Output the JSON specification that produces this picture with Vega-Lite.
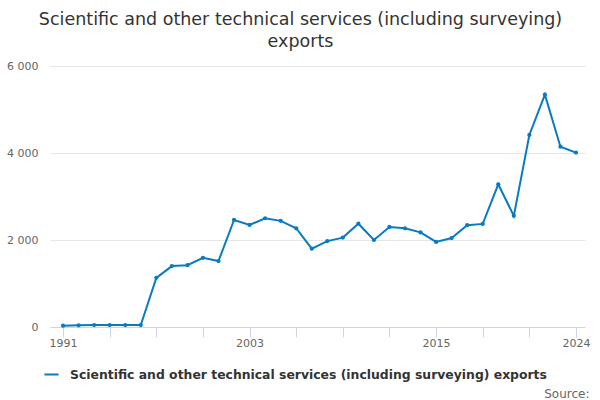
{
  "$schema": "https://vega.github.io/schema/vega-lite/v6.json",
  "width": 535,
  "height": 261,
  "autosize": "none",
  "padding": {"left": 50, "top": 66, "right": 15, "bottom": 73},
  "background": "#ffffff",
  "title": {
    "text": ["Scientific and other technical services (including surveying)", "exports"],
    "font": "DejaVu Sans",
    "fontSize": 17.5,
    "fontWeight": "normal",
    "color": "#333333",
    "lineHeight": 22,
    "anchor": "middle",
    "dx": -17,
    "offset": 10
  },
  "config": {
    "view": {"stroke": null},
    "font": "DejaVu Sans"
  },
  "data": {
    "values": [
      {"year": 1991, "value": 30},
      {"year": 1992, "value": 40},
      {"year": 1993, "value": 45},
      {"year": 1994, "value": 45},
      {"year": 1995, "value": 45},
      {"year": 1996, "value": 45},
      {"year": 1997, "value": 1130},
      {"year": 1998, "value": 1400},
      {"year": 1999, "value": 1420},
      {"year": 2000, "value": 1590},
      {"year": 2001, "value": 1515},
      {"year": 2002, "value": 2460},
      {"year": 2003, "value": 2345},
      {"year": 2004, "value": 2500},
      {"year": 2005, "value": 2440},
      {"year": 2006, "value": 2270},
      {"year": 2007, "value": 1800},
      {"year": 2008, "value": 1975},
      {"year": 2009, "value": 2055},
      {"year": 2010, "value": 2375},
      {"year": 2011, "value": 2000},
      {"year": 2012, "value": 2300},
      {"year": 2013, "value": 2270},
      {"year": 2014, "value": 2175},
      {"year": 2015, "value": 1955},
      {"year": 2016, "value": 2045},
      {"year": 2017, "value": 2340},
      {"year": 2018, "value": 2370},
      {"year": 2019, "value": 3280},
      {"year": 2020, "value": 2555},
      {"year": 2021, "value": 4415},
      {"year": 2022, "value": 5340},
      {"year": 2023, "value": 4145},
      {"year": 2024, "value": 4010}
    ]
  },
  "mark": {
    "type": "line",
    "strokeWidth": 2,
    "point": {"filled": true, "size": 18}
  },
  "encoding": {
    "x": {
      "field": "year",
      "type": "quantitative",
      "scale": {"domain": [1990.16, 2024.58], "nice": false, "zero": false},
      "axis": {
        "title": "Source:",
        "titleAnchor": "end",
        "titleAlign": "right",
        "titleX": 539,
        "titleY": 61,
        "titleFontSize": 12,
        "titleFontWeight": "normal",
        "titleColor": "#666666",
        "values": [1991, 1994, 1997, 2000, 2003, 2006, 2009, 2012, 2015, 2018, 2021, 2024],
        "format": "d",
        "labelExpr": "indexof([1991, 2003, 2015, 2024], datum.value) >= 0 ? datum.label : ''",
        "labelFontSize": 11,
        "labelColor": "#666666",
        "labelPadding": 0,
        "labelFlush": false,
        "tickSize": 10,
        "tickColor": "#ccd6eb",
        "domainColor": "#ccd6eb",
        "grid": false
      }
    },
    "y": {
      "field": "value",
      "type": "quantitative",
      "scale": {"domain": [0, 6000], "nice": false},
      "axis": {
        "title": null,
        "values": [0, 2000, 4000, 6000],
        "labelExpr": "replace(format(datum.value, ','), ',', ' ')",
        "labelFontSize": 11,
        "labelColor": "#666666",
        "labelPadding": 12,
        "ticks": false,
        "domain": false,
        "gridColor": "#e6e6e6"
      }
    },
    "color": {
      "datum": "Scientific and other technical services (including surveying) exports",
      "type": "nominal",
      "scale": {"range": ["#0a7bc1"]},
      "legend": {
        "title": null,
        "orient": "none",
        "legendX": -7,
        "legendY": 300,
        "symbolType": "stroke",
        "symbolSize": 200,
        "symbolStrokeWidth": 2,
        "labelFontSize": 12.4,
        "labelFontWeight": "bold",
        "labelColor": "#333333",
        "labelLimit": 600,
        "labelOffset": 10
      }
    }
  }
}
